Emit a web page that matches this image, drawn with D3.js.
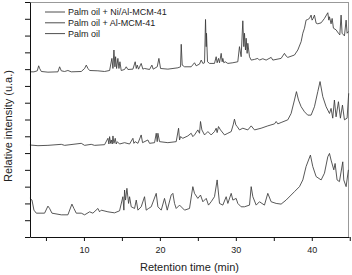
<!DOCTYPE html>
<html>
<head>
<meta charset="utf-8">
<script src="https://cdn.jsdelivr.net/npm/d3@7"></script>
<style>
	body { margin: 0; background: #fff; }
	svg { display: block; font-family: "Liberation Sans", Arial, sans-serif; }
</style>
</head>
<body>
<div id="chart"></div>
<script>
'use strict'
// chromatograms, [retention time (min), relative intensity]
var niAlData = [
	[2.89,492],[3.42,492],[3.86,495],[4.04,510],[4.17,502],[4.39,493],[5.26,491],[6.58,492],[6.80,507],[7.02,495],
	[7.46,493],[7.89,496],[8.33,492],[9.65,493],[10.09,502],[10.31,512],[10.53,502],[10.75,496],[11.84,495],[12.72,493],
	[13.38,496],[13.68,532],[13.82,502],[13.95,557],[14.08,507],[14.17,537],[14.30,502],[14.47,532],[14.61,502],[14.74,522],
	[14.91,496],[15.35,499],[15.57,507],[15.79,499],[16.45,500],[16.75,522],[16.89,502],[17.02,512],[17.19,500],[17.54,517],
	[17.76,500],[17.98,502],[18.64,499],[18.95,512],[19.12,500],[19.65,507],[19.87,532],[20.09,502],[21.05,500],[22.37,504],
	[22.72,507],[22.81,574],[22.94,512],[23.25,507],[24.12,507],[24.56,519],[24.78,510],[25.22,515],[25.44,527],[25.66,517],
	[25.88,519],[26.01,648],[26.10,567],[26.14,607],[26.27,522],[26.54,517],[27.19,517],[27.41,537],[27.54,519],[27.72,532],
	[27.85,519],[28.07,547],[28.20,522],[28.29,532],[28.42,519],[28.60,522],[28.95,517],[29.61,519],[30.26,522],[30.48,567],
	[30.70,537],[30.92,644],[31.05,567],[31.14,607],[31.27,557],[31.36,592],[31.49,547],[31.58,577],[31.80,537],[32.02,527],
	[32.46,529],[32.89,532],[33.11,527],[33.55,531],[33.99,527],[34.65,535],[34.87,527],[35.96,532],[36.40,547],[36.62,539],
	[36.84,535],[37.72,542],[38.16,557],[38.60,582],[38.82,607],[39.04,622],[39.25,646],[39.47,648],[39.69,651],[39.91,661],
	[40.04,646],[40.18,651],[40.35,661],[40.57,637],[40.79,635],[41.23,638],[41.67,651],[42.11,668],[42.24,646],[42.33,656],
	[42.54,635],[42.68,651],[42.85,622],[43.20,617],[43.51,607],[43.69,602],[43.86,661],[43.99,607],[44.30,599],[44.52,646],
	[44.65,607],[44.82,612]
];
var alData = [
	[2.89,274],[3.95,272],[5.26,273],[7.02,276],[7.46,273],[9.65,279],[10.09,273],[10.96,276],[11.40,273],[12.72,275],
	[13.16,294],[13.29,277],[13.38,299],[13.51,279],[13.60,289],[13.73,277],[13.82,301],[13.95,279],[14.12,294],[14.25,277],
	[14.39,284],[14.69,277],[15.35,281],[16.01,277],[16.45,294],[16.58,279],[16.75,284],[17.11,279],[17.54,304],[17.72,281],
	[18.42,289],[18.64,279],[19.30,281],[19.52,309],[19.65,284],[19.74,309],[19.96,284],[21.05,281],[22.15,284],[22.46,324],
	[22.59,289],[22.72,299],[23.02,294],[23.68,301],[24.12,309],[24.34,299],[24.56,304],[25.00,319],[25.22,309],[25.35,344],
	[25.53,319],[25.88,304],[26.32,314],[26.75,304],[27.19,314],[27.41,324],[27.54,311],[27.72,329],[27.98,319],[28.51,304],
	[28.95,309],[29.39,314],[29.65,334],[29.82,351],[30.00,334],[30.18,329],[30.48,319],[30.92,324],[31.58,319],[32.02,331],
	[32.46,319],[33.33,324],[34.21,331],[35.09,337],[35.31,344],[35.53,337],[35.96,341],[36.84,349],[37.28,368],[37.72,408],
	[37.98,433],[38.25,408],[38.60,388],[39.04,373],[39.47,363],[39.91,363],[40.35,388],[40.79,433],[41.09,463],[41.45,418],
	[41.89,388],[42.33,368],[42.54,383],[42.76,354],[42.98,408],[43.20,358],[43.51,403],[43.77,354],[44.04,393],[44.30,349],
	[44.65,354],[44.86,428]
];
var palmData = [
	[2.89,115],[3.16,110],[3.42,80],[3.73,71],[4.82,71],[5.26,92],[5.48,85],[5.79,71],[7.02,66],[7.89,66],
	[8.42,98],[8.68,85],[8.99,71],[9.65,71],[10.09,66],[10.75,75],[11.18,71],[11.84,85],[12.06,75],[12.28,80],
	[13.16,75],[14.03,72],[14.69,78],[15.13,120],[15.26,80],[15.35,140],[15.48,110],[15.66,145],[15.88,100],[16.01,120],
	[16.23,90],[16.67,85],[16.89,110],[17.11,80],[17.54,90],[17.98,120],[18.20,80],[18.51,85],[18.86,90],[19.52,130],
	[19.74,90],[20.18,80],[20.61,115],[20.97,80],[21.49,125],[21.71,130],[21.93,100],[22.15,85],[22.59,95],[23.25,80],
	[23.90,85],[24.34,150],[24.56,130],[25.00,115],[25.35,125],[25.66,105],[26.10,115],[26.40,95],[26.75,105],[27.19,120],
	[27.54,170],[27.85,100],[28.29,95],[28.73,120],[28.95,100],[29.39,130],[29.61,110],[30.04,115],[30.26,100],[30.70,90],
	[31.14,90],[31.80,95],[32.02,150],[32.24,120],[32.68,95],[33.11,105],[33.77,95],[34.21,130],[34.65,105],[35.31,100],
	[35.96,98],[36.62,110],[37.28,125],[37.72,135],[38.38,150],[38.82,170],[39.25,210],[39.82,244],[40.13,210],[40.57,180],
	[41.23,170],[41.67,190],[42.11,239],[42.33,249],[42.54,229],[42.90,200],[43.07,219],[43.33,170],[43.64,165],[44.08,224],
	[44.21,170],[44.52,150],[44.82,200]
];
var seriesNames = ["Palm oil + Ni/Al-MCM-41", "Palm oil + Al-MCM-41", "Palm oil"];
var xMajorTicks = [10, 20, 30, 40];
var xMinorTicks = [5, 15, 25, 35, 45];

var W = 352, H = 275;
var margin = {top: 2, right: 3, bottom: 38, left: 30};
var w = W - margin.left - margin.right;
var h = H - margin.top - margin.bottom;

var svg = d3.select("#chart").append("svg")
	.attr("width", W).attr("height", H);
var g = svg.append("g").attr("transform", "translate(" + margin.left + "," + margin.top + ")");

var x = d3.scaleLinear().domain([2.9, 44.9]).range([0, w]);
var y = d3.scaleLinear().domain([0, 700]).range([h, 0]);

// frame, top and right in light grey
g.append("line").attr("x1", 0).attr("x2", w).attr("y1", 0.5).attr("y2", 0.5)
	.style("stroke", "#999").style("stroke-width", 1);
g.append("line").attr("x1", w - 0.5).attr("x2", w - 0.5).attr("y1", 0).attr("y2", h)
	.style("stroke", "#999").style("stroke-width", 1);

var line = d3.line()
	.x(function(d) { return x(d[0]); })
	.y(function(d) { return y(d[1]); });

[niAlData, alData, palmData].forEach(function(s) {
	g.append("path")
		.datum(s)
		.attr("d", line)
		.style("fill", "none")
		.style("stroke", "#3a3a3a")
		.style("stroke-width", 0.85)
		.style("stroke-linejoin", "round");
});

// x axis
var xAxis = g.append("g").attr("transform", "translate(0," + h + ")")
	.call(d3.axisBottom(x).tickValues(xMajorTicks).tickSize(4).tickSizeOuter(0));
g.append("g").attr("transform", "translate(0," + h + ")")
	.call(d3.axisBottom(x).tickValues(xMinorTicks).tickSize(4).tickSizeOuter(0).tickFormat(""))
	.select(".domain").remove();
xAxis.selectAll("text").style("font-size", "9px").style("fill", "#222").attr("dy", "0.95em");

// y axis, no labels
g.append("g")
	.call(d3.axisLeft(y).tickValues(d3.range(0, 701, 50)).tickSize(5).tickSizeOuter(0).tickFormat(""));

g.selectAll(".domain, .tick line").style("stroke", "#111").style("stroke-width", 1);

svg.append("text")
	.attr("x", margin.left + w / 2).attr("y", 271)
	.attr("text-anchor", "middle")
	.style("font-size", "11px").style("fill", "#222")
	.text("Retention time (min)");
svg.append("text")
	.attr("transform", "translate(12,126) rotate(-90)")
	.attr("text-anchor", "middle")
	.style("font-size", "11px").style("fill", "#222")
	.text("Relative intensity (u.a.)");

// legend
var legend = svg.append("g").attr("class", "legend");
seriesNames.forEach(function(name, i) {
	var ly = 12 + i * 10.8;
	legend.append("line")
		.attr("x1", 45).attr("x2", 65).attr("y1", ly).attr("y2", ly)
		.style("stroke", "#3a3a3a").style("stroke-width", 0.9);
	legend.append("text")
		.attr("x", 68).attr("y", ly).attr("dy", "0.35em")
		.style("font-size", "9px").style("fill", "#222")
		.text(name);
});
</script>
</body>
</html>
